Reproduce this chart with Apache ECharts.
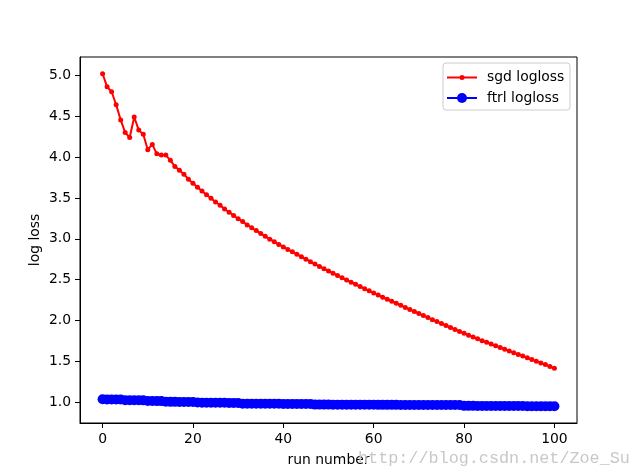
<!DOCTYPE html>
<html>
<head>
<meta charset="utf-8">
<script src="https://cdn.jsdelivr.net/npm/echarts@6/dist/echarts.min.js"></script>
<style>
html,body{margin:0;padding:0;background:#fff;}
#chart{width:640px;height:476px;}
</style>
</head>
<body>
<div id="chart"></div>
<script>
const runs = Array.from({length: 101}, (_, i) => i);
const sgdLogloss = [
  5.02, 4.86, 4.80, 4.64, 4.455, 4.30, 4.24, 4.49, 4.33, 4.28,
  4.09, 4.155, 4.04, 4.025, 4.025, 3.96, 3.886, 3.84, 3.79, 3.73,
  3.68, 3.63, 3.585, 3.54, 3.495, 3.45, 3.41, 3.365, 3.325, 3.285,
  3.245, 3.21, 3.17, 3.135, 3.10, 3.065, 3.03, 2.995, 2.965, 2.93,
  2.90, 2.87, 2.84, 2.81, 2.78, 2.75, 2.72, 2.69, 2.662, 2.634,
  2.606, 2.578, 2.55, 2.523, 2.496, 2.469, 2.442, 2.415, 2.389, 2.363,
  2.337, 2.311, 2.285, 2.26, 2.235, 2.21, 2.185, 2.16, 2.135, 2.11,
  2.085, 2.06, 2.035, 2.01, 1.986, 1.962, 1.938, 1.914, 1.89, 1.866,
  1.843, 1.82, 1.797, 1.775, 1.753, 1.732, 1.711, 1.69, 1.669, 1.648,
  1.627, 1.606, 1.585, 1.564, 1.543, 1.522, 1.501, 1.48, 1.46, 1.437,
  1.415
];
const ftrlLogloss = [
  1.035, 1.034, 1.034, 1.033, 1.033, 1.025, 1.024, 1.024, 1.023, 1.022,
  1.015, 1.014, 1.013, 1.013, 1.005, 1.004, 1.004, 1.003, 1.003, 1.002,
  1.002, 0.995, 0.994, 0.994, 0.993, 0.993, 0.992, 0.992, 0.991, 0.991,
  0.990, 0.982, 0.982, 0.982, 0.981, 0.981, 0.981, 0.980, 0.980, 0.980,
  0.979, 0.979, 0.979, 0.979, 0.978, 0.978, 0.978, 0.970, 0.970, 0.970,
  0.970, 0.969, 0.969, 0.969, 0.969, 0.969, 0.968, 0.968, 0.968, 0.968,
  0.968, 0.967, 0.967, 0.967, 0.967, 0.967, 0.966, 0.966, 0.966, 0.966,
  0.966, 0.966, 0.965, 0.965, 0.965, 0.965, 0.965, 0.965, 0.965, 0.965,
  0.955, 0.955, 0.955, 0.954, 0.954, 0.954, 0.953, 0.953, 0.953, 0.953,
  0.952, 0.952, 0.952, 0.952, 0.951, 0.951, 0.951, 0.951, 0.950, 0.950,
  0.950
];
const xTicks = [0, 20, 40, 60, 80, 100];
const yTicks = [1.0, 1.5, 2.0, 2.5, 3.0, 3.5, 4.0, 4.5, 5.0];
const seriesNames = ['sgd logloss', 'ftrl logloss'];
const xName = 'run number';
const yName = 'log loss';
const watermark = 'http://blog.csdn.net/Zoe_Su';

const FONT = 'DejaVu Sans';
const chart = echarts.init(document.getElementById('chart'), null, {renderer: 'canvas'});
const option = {
  animation: false,
  backgroundColor: '#fff',
  grid: {left: 80, right: 63, top: 57, bottom: 53, show: true, borderColor: '#000', borderWidth: 1, backgroundColor: 'transparent'},
  xAxis: {
    type: 'value', min: -5, max: 105,
    name: xName, nameLocation: 'middle', nameGap: 30, nameMoveOverlap: false,
    nameTextStyle: {fontFamily: FONT, fontSize: 13.9, color: '#000'},
    axisLine: {show: true, onZero: false, lineStyle: {color: '#000', width: 1}},
    axisTick: {show: true, length: 5, customValues: xTicks, lineStyle: {color: '#000'}},
    axisLabel: {customValues: xTicks, margin: 9, fontFamily: FONT, fontSize: 13.9, color: '#000'},
    splitLine: {show: false}
  },
  yAxis: {
    type: 'value', min: 0.745, max: 5.225,
    name: yName, nameLocation: 'middle', nameGap: 38, nameMoveOverlap: false,
    nameTextStyle: {fontFamily: FONT, fontSize: 13.9, color: '#000'},
    axisLine: {show: true, onZero: false, lineStyle: {color: '#000', width: 1}},
    axisTick: {show: true, length: 5, customValues: yTicks, lineStyle: {color: '#000'}},
    axisLabel: {customValues: yTicks, margin: 9, fontFamily: FONT, fontSize: 13.9, color: '#000',
      formatter: v => Number(v).toFixed(1)},
    splitLine: {show: false}
  },
  legend: [
    {data: [seriesNames[0]], left: 446, top: 70.5, padding: 0, itemWidth: 30, itemHeight: 6.25, z: 10,
     textStyle: {fontFamily: FONT, fontSize: 13.9, color: '#000', padding: [0, 0, 0, 5]}},
    {data: [seriesNames[1]], left: 446, top: 91, padding: 0, itemWidth: 30, itemHeight: 12.5, z: 10,
     textStyle: {fontFamily: FONT, fontSize: 13.9, color: '#000', padding: [0, 0, 0, 5]}}
  ],
  graphic: [
    {type: 'rect', z: 5, shape: {x: 443, y: 63, width: 127, height: 47, r: 3},
     style: {fill: 'rgba(255,255,255,0.8)', stroke: '#cccccc', lineWidth: 1}},
    {type: 'text', z: 20, left: 358, top: 450,
     style: {text: watermark, font: '16.8px "Liberation Mono"', fill: '#c8c8c8'}}
  ],
  series: [
    {name: seriesNames[0], type: 'line', data: runs.map((r, i) => [r, sgdLogloss[i]]),
     symbol: 'circle', symbolSize: 5, showAllSymbol: true,
     lineStyle: {color: '#ff0000', width: 2}, itemStyle: {color: '#ff0000'}},
    {name: seriesNames[1], type: 'line', data: runs.map((r, i) => [r, ftrlLogloss[i]]),
     symbol: 'circle', symbolSize: 10, showAllSymbol: true,
     lineStyle: {color: '#0000ff', width: 2}, itemStyle: {color: '#0000ff'}}
  ]
};
chart.setOption(option);
</script>
</body>
</html>
